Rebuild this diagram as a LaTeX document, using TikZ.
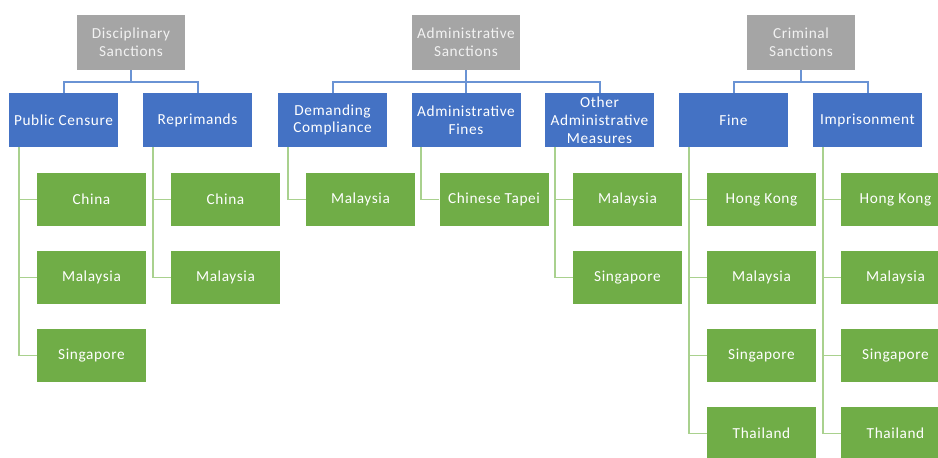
\documentclass[tikz,border=0pt]{standalone}
\usepackage{fontspec}
\setmainfont{Carlito}[LetterSpace=4]
\usetikzlibrary{positioning}
\definecolor{gbox}{HTML}{A5A5A5}
\definecolor{bbox}{HTML}{4472C4}
\definecolor{grbox}{HTML}{70AD47}
\definecolor{bline}{HTML}{6A93D4}
\definecolor{gline}{HTML}{A9D18E}
\definecolor{gtext}{HTML}{F2F2F2}
\tikzset{
  boxbase/.style={rectangle, inner sep=0pt, align=center, text=white,
    font=\fontsize{15.3}{17.8}\selectfont, minimum width=109pt},
  topbox/.style={boxbase, fill=gbox, text=gtext, minimum height=55pt, minimum width=108pt},
  midbox/.style={boxbase, fill=bbox, minimum height=54pt},
  leafbox/.style={boxbase, fill=grbox, minimum height=53pt},
  bconn/.style={draw=bline, line width=2pt},
  gconn/.style={draw=gline, line width=1.8pt},
}
\begin{document}
\begin{tikzpicture}[x=1pt,y=1pt]
\useasboundingbox (0,0) rectangle (938,-458);
\clip (0,0) rectangle (938,-458);
% top level
\node[topbox] (disc) at (131,-42.5) {Disciplinary\\Sanctions};
\node[topbox] (admin) at (466,-42.5) {Administrative\\Sanctions};
\node[topbox] (crim) at (801,-42.5) {Criminal\\Sanctions};
% middle level
\node[midbox] (pc) at (63.5,-120) {Public Censure};
\node[midbox] (rep) at (197.5,-120) {Reprimands};
\node[midbox] (dc) at (332.5,-120) {Demanding\\Compliance};
\node[midbox] (af) at (466,-120) {Administrative\\Fines};
\node[midbox] (oam) at (599.5,-120) {Other\\Administrative\\Measures};
\node[midbox] (fine) at (733.5,-120) {Fine};
\node[midbox] (imp) at (867.5,-120) {Imprisonment};
% leaves
\node[leafbox] (pc1) at (91.5,-199.5) {China};
\node[leafbox] (pc2) at (91.5,-277.5) {Malaysia};
\node[leafbox] (pc3) at (91.5,-355.5) {Singapore};
\node[leafbox] (rep1) at (225.5,-199.5) {China};
\node[leafbox] (rep2) at (225.5,-277.5) {Malaysia};
\node[leafbox] (dc1) at (360.5,-199.5) {Malaysia};
\node[leafbox] (af1) at (494,-199.5) {Chinese Tapei};
\node[leafbox] (oam1) at (627.5,-199.5) {Malaysia};
\node[leafbox] (oam2) at (627.5,-277.5) {Singapore};
\node[leafbox] (fine1) at (761.5,-199.5) {Hong Kong};
\node[leafbox] (fine2) at (761.5,-277.5) {Malaysia};
\node[leafbox] (fine3) at (761.5,-355.5) {Singapore};
\node[leafbox] (fine4) at (761.5,-433.5) {Thailand};
\node[leafbox] (imp1) at (895.5,-199.5) {Hong Kong};
\node[leafbox] (imp2) at (895.5,-277.5) {Malaysia};
\node[leafbox] (imp3) at (895.5,-355.5) {Singapore};
\node[leafbox] (imp4) at (895.5,-433.5) {Thailand};
% top-to-middle connectors
\foreach \p/\c in {disc/pc, disc/rep, admin/dc, admin/af, admin/oam, crim/fine, crim/imp}{
  \draw[bconn] (\p.south) -- ++(0,-12) -| (\c.north);
}
% middle-to-leaf connectors
\foreach \p/\c in {pc/pc1, pc/pc2, pc/pc3, rep/rep1, rep/rep2, dc/dc1, af/af1,
  oam/oam1, oam/oam2, fine/fine1, fine/fine2, fine/fine3, fine/fine4,
  imp/imp1, imp/imp2, imp/imp3, imp/imp4}{
  \draw[gconn] ([xshift=10pt]\p.south west) |- (\c.west);
}
\end{tikzpicture}
\end{document}
